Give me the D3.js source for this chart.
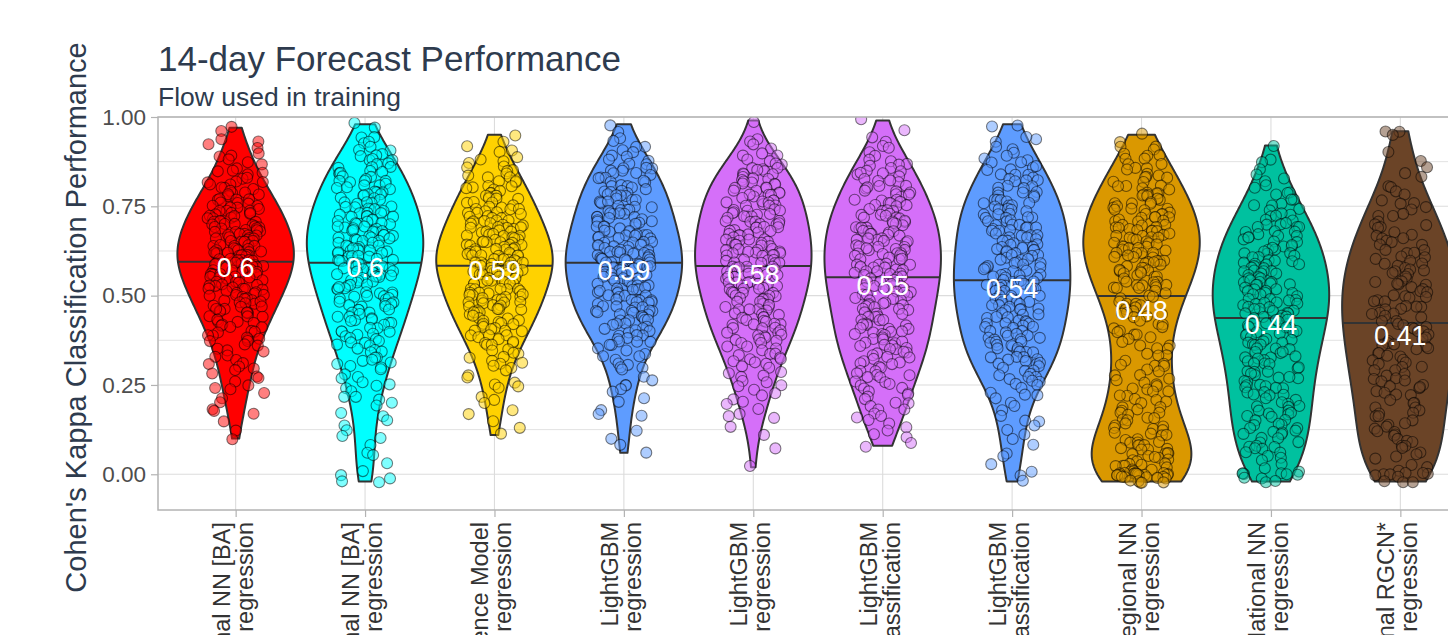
<!DOCTYPE html>
<html><head><meta charset="utf-8">
<script src="https://cdn.jsdelivr.net/npm/d3@7"></script>
<style>body{margin:0;background:#fff;overflow:hidden}svg{display:block;font-family:"Liberation Sans",Arial,Helvetica,sans-serif}</style>
</head><body>
<svg id="chart" width="1448" height="635"></svg>
<script>
// ---------- data ----------
const modelNames = ["Regional NN [BA]","National NN [BA]","Persistence Model","LightGBM","LightGBM","LightGBM","LightGBM","Regional NN","National NN","National RGCN*"];
const modelTypes = ["regression","regression","regression","regression","regression","classification","classification","regression","regression","regression"];
const modelColors = ["#FF0000","#00FFFF","#FFD200","#5E9CFF","#D56FF9","#D56FF9","#5E9CFF","#DA9800","#00C19F","#6B4427"];
const yTicks = [0,0.25,0.5,0.75,1.0];
const yMinorTicks = [0.125,0.375,0.625,0.875];

const regionalNNBA = [.97,.96,.94,.93,.92,.91,.90,.89,.89,.88,.87,.87,.86,.85,.85,
.84,.84,.83,.83,.82,.82,.82,.81,.81,.80,.80,.80,
.79,.79,.79,.78,.78,.78,.77,.77,.77,.77,.76,.76,.76,.75,.75,.75,.75,
.74,.74,.74,.74,.73,.73,.73,.73,.72,.72,.72,.72,.72,.71,.71,.71,.71,.70,.70,.70,.70,
.69,.69,.69,.69,.69,.68,.68,.68,.68,.68,.67,.67,.67,.67,.67,.66,.66,.66,.66,.66,.65,.65,.65,.65,.65,
.64,.64,.64,.64,.64,.63,.63,.63,.63,.63,.62,.62,.62,.62,.62,.62,.61,.61,.61,.61,.61,.60,.60,.60,.60,.60,.60,
.59,.59,.59,.59,.59,.58,.58,.58,.58,.58,.57,.57,.57,.57,.57,.56,.56,.56,.56,.56,.55,.55,.55,.55,.55,
.54,.54,.54,.54,.53,.53,.53,.53,.52,.52,.52,.52,.52,.51,.51,.51,.51,.50,.50,.50,.50,
.49,.49,.49,.49,.48,.48,.48,.48,.47,.47,.47,.46,.46,.46,.46,.45,.45,.45,
.44,.44,.44,.43,.43,.43,.42,.42,.42,.41,.41,.40,.40,.40,
.39,.39,.38,.38,.38,.37,.37,.36,.36,.35,.35,
.34,.33,.33,.32,.31,.31,.30,.30,
.29,.28,.27,.27,.26,.25,
.24,.24,.23,.21,.20,
.18,.18,.17,.15,.12,.10];

const nationalNNBA = [.98,.97,
.94,.94,.93,.93,.92,.91,.91,.90,
.89,.89,.88,.88,.88,.87,.87,.86,.86,.86,.85,.85,
.84,.84,.84,.83,.83,.83,.82,.82,.82,.82,.81,.81,.81,.80,.80,.80,
.79,.79,.79,.79,.78,.78,.78,.78,.77,.77,.77,.76,.76,.76,.76,.75,.75,.75,
.74,.74,.74,.74,.73,.73,.73,.73,.72,.72,.72,.72,.71,.71,.71,.71,.70,.70,.70,.70,
.69,.69,.69,.69,.69,.68,.68,.68,.68,.68,.67,.67,.67,.67,.66,.66,.66,.66,.66,.65,.65,.65,.65,
.64,.64,.64,.64,.63,.63,.63,.63,.63,.62,.62,.62,.62,.61,.61,.61,.61,.60,.60,.60,.60,.60,
.59,.59,.59,.59,.58,.58,.58,.58,.57,.57,.57,.57,.56,.56,.56,.56,.55,.55,.55,.55,
.54,.54,.54,.54,.53,.53,.53,.52,.52,.52,.52,.51,.51,.51,.50,.50,.50,.50,
.49,.49,.49,.48,.48,.48,.48,.47,.47,.47,.46,.46,.46,.45,.45,.45,
.44,.44,.44,.43,.43,.43,.42,.42,.42,.41,.41,.40,.40,.40,
.39,.39,.39,.38,.38,.37,.37,.37,.36,.36,.35,.35,
.34,.34,.33,.33,.32,.32,.31,.31,.30,.30,
.29,.28,.27,.27,.26,.25,.25,
.24,.23,.22,.22,.21,.20,
.19,.17,.16,.15,
.14,.12,.11,.10,
.08,.06,.05,
.03,.01,.00,
-.01,-.02,-.02];

const persistenceModel = [.95,
.93,.92,.91,.90,
.89,.88,.88,.87,.86,.86,.85,.85,
.84,.84,.83,.83,.82,.82,.82,.81,.81,.80,.80,.80,
.79,.79,.79,.78,.78,.78,.78,.77,.77,.77,.76,.76,.76,.75,.75,.75,
.74,.74,.74,.74,.73,.73,.73,.73,.72,.72,.72,.72,.71,.71,.71,.71,.70,.70,.70,.70,
.69,.69,.69,.69,.69,.68,.68,.68,.68,.67,.67,.67,.67,.67,.66,.66,.66,.66,.65,.65,.65,.65,.65,
.64,.64,.64,.64,.64,.63,.63,.63,.63,.63,.62,.62,.62,.62,.62,.61,.61,.61,.61,.61,.60,.60,.60,.60,.60,.60,
.59,.59,.59,.59,.59,.59,.58,.58,.58,.58,.58,.57,.57,.57,.57,.57,.56,.56,.56,.56,.56,.55,.55,.55,.55,
.54,.54,.54,.54,.54,.53,.53,.53,.53,.52,.52,.52,.52,.52,.51,.51,.51,.51,.50,.50,.50,.50,.50,
.49,.49,.49,.49,.48,.48,.48,.48,.47,.47,.47,.47,.46,.46,.46,.46,.45,.45,.45,.45,
.44,.44,.44,.43,.43,.43,.42,.42,.42,.42,.41,.41,.41,.40,.40,.40,
.39,.39,.39,.38,.38,.37,.37,.37,.36,.36,.35,.35,
.34,.34,.33,.33,.32,.31,.31,.30,.30,
.29,.28,.27,.26,.25,.25,
.24,.22,.21,.20,
.18,.17,.15,
.13,.11];

const lgbmRegA = [.98,.96,
.94,.93,.92,.92,.91,.90,
.89,.89,.88,.88,.87,.87,.86,.86,.86,.85,.85,
.84,.84,.84,.83,.83,.83,.82,.82,.82,.81,.81,.81,.80,.80,
.79,.79,.79,.79,.78,.78,.78,.78,.77,.77,.77,.76,.76,.76,.76,.75,.75,.75,
.74,.74,.74,.74,.73,.73,.73,.73,.72,.72,.72,.72,.71,.71,.71,.71,.70,.70,.70,
.69,.69,.69,.69,.68,.68,.68,.68,.67,.67,.67,.67,.67,.66,.66,.66,.66,.65,.65,.65,.65,
.64,.64,.64,.64,.64,.63,.63,.63,.63,.62,.62,.62,.62,.62,.61,.61,.61,.61,.60,.60,.60,.60,.60,
.59,.59,.59,.59,.59,.58,.58,.58,.58,.58,.57,.57,.57,.57,.56,.56,.56,.56,.56,.55,.55,.55,.55,
.54,.54,.54,.54,.53,.53,.53,.53,.52,.52,.52,.52,.52,.51,.51,.51,.51,.50,.50,.50,.50,
.49,.49,.49,.49,.48,.48,.48,.48,.47,.47,.47,.47,.46,.46,.46,.46,.45,.45,.45,.45,
.44,.44,.44,.43,.43,.43,.43,.42,.42,.42,.41,.41,.41,.40,.40,.40,
.39,.39,.39,.38,.38,.37,.37,.37,.36,.36,.35,.35,
.34,.33,.33,.32,.31,.31,.30,.30,
.29,.27,.26,.25,.25,
.24,.23,.21,.20,
.18,.17,.16,
.12,.10,
.08,.06];

const lgbmRegB = [.99,
.94,.93,.92,.91,.90,
.89,.89,.88,.88,.87,.87,.86,.86,.85,.85,.85,
.84,.84,.84,.83,.83,.83,.82,.82,.82,.81,.81,.81,.80,.80,.80,
.79,.79,.79,.79,.78,.78,.78,.78,.77,.77,.77,.76,.76,.76,.76,.75,.75,.75,
.74,.74,.74,.74,.73,.73,.73,.73,.72,.72,.72,.72,.71,.71,.71,.71,.70,.70,.70,
.69,.69,.69,.69,.68,.68,.68,.68,.67,.67,.67,.67,.67,.66,.66,.66,.66,.65,.65,.65,.65,
.64,.64,.64,.64,.63,.63,.63,.63,.62,.62,.62,.62,.62,.61,.61,.61,.61,.60,.60,.60,.60,
.59,.59,.59,.59,.58,.58,.58,.58,.58,.57,.57,.57,.57,.56,.56,.56,.56,.55,.55,.55,.55,
.54,.54,.54,.54,.53,.53,.53,.53,.52,.52,.52,.52,.51,.51,.51,.51,.50,.50,.50,
.49,.49,.49,.49,.48,.48,.48,.48,.47,.47,.47,.46,.46,.46,.46,.45,.45,.45,
.44,.44,.44,.43,.43,.43,.42,.42,.42,.42,.41,.41,.41,.40,.40,.40,
.39,.39,.39,.38,.38,.38,.37,.37,.37,.36,.36,.35,.35,
.34,.34,.33,.33,.32,.32,.32,.31,.31,.30,.30,
.29,.28,.28,.27,.26,.26,.25,.25,
.24,.23,.22,.21,.20,.20,
.18,.17,.16,.16,
.13,.11,.07,.02];

const lgbmClassA = [.99,.96,
.94,.93,.92,.91,.90,
.89,.88,.88,.87,.87,.86,.86,.85,.85,
.84,.84,.84,.83,.83,.82,.82,.82,.81,.81,.80,.80,
.79,.79,.79,.78,.78,.78,.77,.77,.77,.76,.76,.76,.75,.75,.75,
.74,.74,.74,.74,.73,.73,.73,.72,.72,.72,.72,.71,.71,.71,.70,.70,.70,
.69,.69,.69,.69,.68,.68,.68,.68,.67,.67,.67,.67,.66,.66,.66,.66,.65,.65,.65,
.64,.64,.64,.64,.63,.63,.63,.63,.62,.62,.62,.62,.61,.61,.61,.61,.60,.60,.60,
.59,.59,.59,.59,.58,.58,.58,.58,.57,.57,.57,.57,.56,.56,.56,.56,.55,.55,.55,
.54,.54,.54,.54,.53,.53,.53,.53,.52,.52,.52,.52,.51,.51,.51,.50,.50,.50,
.49,.49,.49,.49,.48,.48,.48,.47,.47,.47,.47,.46,.46,.46,.45,.45,.45,
.44,.44,.44,.43,.43,.43,.42,.42,.42,.42,.41,.41,.41,.40,.40,.40,
.39,.39,.39,.38,.38,.38,.37,.37,.37,.36,.36,.36,.35,.35,.35,
.34,.34,.34,.33,.33,.33,.32,.32,.31,.31,.31,.30,.30,
.29,.29,.28,.28,.28,.27,.27,.26,.26,.25,.25,
.24,.24,.23,.23,.22,.22,.21,.20,.20,
.19,.18,.18,.17,.16,.16,.15,
.14,.13,.12,.11,.10,
.09,.08];

const lgbmClassB = [.98,.97,
.94,.94,.93,.92,.91,.90,
.89,.88,.88,.87,.87,.86,.86,.85,.85,
.84,.84,.84,.83,.83,.82,.82,.82,.81,.81,.80,.80,
.79,.79,.79,.78,.78,.78,.77,.77,.77,.76,.76,.76,.75,.75,.75,
.74,.74,.74,.74,.73,.73,.73,.72,.72,.72,.72,.71,.71,.71,.70,.70,.70,
.69,.69,.69,.69,.68,.68,.68,.67,.67,.67,.67,.66,.66,.66,.65,.65,.65,
.64,.64,.64,.64,.63,.63,.63,.63,.62,.62,.62,.61,.61,.61,.61,.60,.60,.60,
.59,.59,.59,.59,.58,.58,.58,.58,.57,.57,.57,.56,.56,.56,.56,.55,.55,.55,
.54,.54,.54,.54,.53,.53,.53,.53,.52,.52,.52,.52,.51,.51,.51,.51,.50,.50,.50,
.49,.49,.49,.49,.48,.48,.48,.48,.47,.47,.47,.46,.46,.46,.46,.45,.45,.45,
.44,.44,.44,.43,.43,.43,.42,.42,.42,.42,.41,.41,.41,.40,.40,.40,
.39,.39,.39,.38,.38,.38,.38,.37,.37,.37,.36,.36,.36,.35,.35,.35,
.34,.34,.34,.33,.33,.33,.32,.32,.32,.31,.31,.31,.30,.30,
.29,.29,.28,.28,.27,.27,.27,.26,.26,.25,.25,
.24,.23,.22,.22,.21,.20,
.19,.18,.16,.15,.15,
.14,.12,.11,.10,
.08,.06,.05,
.03,.01,.00,-.02];

const regionalNN = [.95,
.93,.92,.92,.91,.90,
.89,.89,.88,.88,.87,.87,.86,.86,.85,
.84,.84,.83,.83,.83,.82,.82,.81,.81,.81,.80,.80,
.79,.79,.79,.78,.78,.78,.78,.77,.77,.76,.76,.76,.76,.75,.75,
.74,.74,.74,.74,.73,.73,.73,.73,.72,.72,.72,.72,.71,.71,.71,.71,.70,.70,.70,
.69,.69,.69,.69,.68,.68,.68,.68,.67,.67,.67,.67,.66,.66,.66,.66,.66,.65,.65,.65,
.64,.64,.64,.64,.63,.63,.63,.63,.63,.62,.62,.62,.62,.61,.61,.61,.61,.60,.60,.60,
.59,.59,.59,.59,.58,.58,.58,.57,.57,.57,.57,.57,.56,.56,.56,.55,.55,.55,
.54,.54,.54,.53,.53,.53,.53,.52,.52,.52,.52,.51,.51,.50,.50,
.49,.48,.48,.48,.47,.47,.47,.46,.46,.45,.45,.45,
.44,.44,.43,.42,.42,.41,.41,.40,.40,
.39,.39,.38,.38,.37,.36,.36,.35,.35,
.34,.33,.33,.32,.31,.31,.30,.30,
.29,.29,.28,.28,.27,.26,.26,.25,.25,
.24,.24,.23,.23,.22,.22,.21,.21,.20,.20,
.19,.19,.18,.18,.17,.17,.17,.16,.16,.15,.15,
.14,.14,.13,.13,.13,.12,.12,.11,.11,.11,.10,.10,
.09,.09,.09,.08,.08,.08,.07,.07,.07,.07,.06,.06,.06,.06,.06,.05,.05,.05,
.04,.04,.04,.03,.03,.03,.02,.02,.02,.02,.01,.01,.01,.01,.00,.00,.00,.00,.00,.00,.00,.00,.00,.00,.00,.00,.00,.00,.00,
-.01,-.01,-.01,-.01,-.01,-.01,-.02,-.02,-.02,-.02,-.02];

const nationalNN = [.92,
.88,.87,.85,
.84,.83,.82,.81,.80,
.79,.79,.78,.77,.77,.76,.75,.75,
.74,.74,.73,.73,.72,.72,.71,.71,.70,.70,.70,
.69,.69,.69,.68,.68,.68,.67,.67,.67,.66,.66,.66,.65,.65,
.64,.64,.64,.63,.63,.63,.62,.62,.62,.62,.61,.61,.61,.60,.60,.60,
.59,.59,.59,.59,.58,.58,.58,.57,.57,.57,.57,.56,.56,.56,.55,.55,.55,
.54,.54,.54,.54,.53,.53,.53,.53,.52,.52,.52,.51,.51,.51,.51,.50,.50,.50,
.49,.49,.49,.49,.48,.48,.48,.48,.47,.47,.47,.46,.46,.46,.46,.45,.45,.45,
.44,.44,.44,.44,.44,.43,.43,.43,.42,.42,.42,.41,.41,.41,.40,.40,.40,
.39,.39,.39,.38,.38,.38,.37,.37,.37,.36,.36,.36,.35,.35,.35,
.34,.34,.34,.33,.33,.33,.32,.32,.32,.31,.31,.31,.30,.30,
.29,.29,.29,.28,.28,.27,.27,.27,.26,.26,.25,.25,.25,
.24,.24,.24,.23,.23,.22,.22,.22,.21,.21,.20,.20,
.19,.19,.19,.18,.18,.17,.17,.17,.16,.16,.15,.15,
.14,.14,.14,.13,.13,.12,.12,.12,.11,.11,.10,.10,
.09,.09,.08,.08,.08,.07,.07,.06,.06,.05,.05,
.04,.03,.02,.01,.00,.00,.00,.00,.00,.00,
-.01,-.02,-.02,-.01];

const nationalRGCN = [.96,.96,.95,
.90,
.88,.86,
.84,.83,.81,.80,
.79,.78,.77,.76,.76,.75,
.74,.73,.72,.72,.71,.70,.70,
.69,.69,.68,.67,.67,.66,.66,.65,.65,
.64,.64,.63,.63,.62,.62,.61,.61,.60,.60,
.59,.59,.58,.58,.57,.57,.57,.56,.56,.55,.55,
.54,.54,.53,.53,.53,.52,.52,.51,.51,.50,.50,.50,
.49,.49,.48,.48,.47,.47,.47,.46,.46,.45,.45,.45,
.44,.44,.43,.43,.42,.42,.41,.41,.41,.40,.40,
.39,.39,.38,.38,.37,.37,.36,.36,.36,.35,.35,
.34,.34,.33,.33,.32,.32,.31,.31,.30,.30,
.29,.29,.28,.28,.27,.27,.26,.26,.25,.25,
.24,.24,.23,.23,.22,.22,.21,.20,.20,
.19,.19,.18,.17,.17,.16,.16,.15,
.14,.14,.13,.13,.12,.12,.11,.11,.10,
.09,.09,.08,.08,.07,.06,.06,.05,
.04,.03,.02,.01,.00,.00,.00,.00,.00,.00,
-.01,-.02,-.02,-.02];

const seriesValues = [regionalNNBA,nationalNNBA,persistenceModel,lgbmRegA,lgbmRegB,lgbmClassA,lgbmClassB,regionalNN,nationalNN,nationalRGCN];

// ---------- layout ----------
const W = 1448, H = 635;
const panel = {left:158, top:117, right:1478, bottom:510};
const svg = d3.select("#chart");
const textColor = "#2e3b4e";

const x = d3.scalePoint().domain(d3.range(modelNames.length)).range([panel.left, panel.right]).padding(0.6);
const y = d3.scaleLinear().domain([-0.1, 1.0]).range([panel.bottom, panel.top]);
const step = x.step();

svg.append("rect").attr("x",0).attr("y",0).attr("width",W).attr("height",H).attr("fill","#fff");

// grid
const grid = svg.append("g");
grid.selectAll("line.minor").data(yMinorTicks).join("line")
  .attr("x1",panel.left).attr("x2",panel.right).attr("y1",d=>y(d)).attr("y2",d=>y(d))
  .attr("stroke","#e2e2e2").attr("stroke-width",1);
grid.selectAll("line.major").data(yTicks).join("line")
  .attr("x1",panel.left).attr("x2",panel.right).attr("y1",d=>y(d)).attr("y2",d=>y(d))
  .attr("stroke","#dcdcdc").attr("stroke-width",1.1);
grid.selectAll("line.vx").data(d3.range(modelNames.length)).join("line")
  .attr("x1",d=>x(d)).attr("x2",d=>x(d)).attr("y1",panel.top).attr("y2",panel.bottom)
  .attr("stroke","#dcdcdc").attr("stroke-width",1.1);

// clip
svg.append("clipPath").attr("id","pclip").append("rect")
  .attr("x",panel.left).attr("y",panel.top).attr("width",panel.right-panel.left).attr("height",panel.bottom-panel.top);
const plot = svg.append("g").attr("clip-path","url(#pclip)");

// kernel density (gaussian, nrd0 bandwidth, trimmed to data range)
function density(vals){
  const s = vals.slice().sort(d3.ascending);
  const n = s.length;
  const sd = d3.deviation(s);
  const iqr = d3.quantileSorted(s,0.75) - d3.quantileSorted(s,0.25);
  const bw = 0.9*Math.min(sd, iqr/1.34)*Math.pow(n,-0.2);
  const lo = s[0], hi = s[n-1], m = 256;
  const out = [];
  for(let i=0;i<=m;i++){
    const v = lo + (hi-lo)*i/m;
    let d = 0;
    for(const t of s){ const z=(v-t)/bw; d += Math.exp(-0.5*z*z); }
    out.push({v, d: d/(n*bw*Math.sqrt(2*Math.PI))});
  }
  return out;
}

const halfMax = 0.45*step;
const rng = d3.randomLcg(0.4217);

seriesValues.forEach((vals,i)=>{
  const cx = x(i);
  const dens = density(vals);
  const dmax = d3.max(dens, d=>d.d);
  const w = d3.scaleLinear().domain([0,dmax]).range([0,halfMax]);
  const area = d3.area().x0(d=>cx-w(d.d)).x1(d=>cx+w(d.d)).y(d=>y(d.v));
  plot.append("path").attr("d",area(dens)+"Z")
    .attr("fill",modelColors[i]).attr("stroke","#333").attr("stroke-width",2).attr("stroke-linejoin","round");
  // median line from density (as ggplot draw_quantiles)
  const cum=[0];
  for(let k=1;k<dens.length;k++) cum.push(cum[k-1] + (dens[k].d+dens[k-1].d)/2*(dens[k].v-dens[k-1].v));
  const tot = cum[cum.length-1];
  let k=1; while(k<cum.length-1 && cum[k]/tot<0.5) k++;
  const f = (0.5*tot-cum[k-1])/(cum[k]-cum[k-1]);
  const qv = dens[k-1].v + f*(dens[k].v-dens[k-1].v);
  const qd = dens[k-1].d + f*(dens[k].d-dens[k-1].d);
  plot.append("line").attr("x1",cx-w(qd)).attr("x2",cx+w(qd)).attr("y1",y(qv)).attr("y2",y(qv))
    .attr("stroke","#333").attr("stroke-width",2);
});

// jittered points
seriesValues.forEach((vals,i)=>{
  const cx = x(i);
  const pts = vals.map(v=>({v, dx:(rng()*2-1)*0.22*step, dy:(rng()*2-1)*0.004}));
  plot.append("g").selectAll("circle").data(pts).join("circle")
    .attr("cx",d=>cx+d.dx).attr("cy",d=>y(d.v+d.dy)).attr("r",5.5)
    .attr("fill",modelColors[i]).attr("fill-opacity",0.5)
    .attr("stroke","#000").attr("stroke-opacity",0.5).attr("stroke-width",1.1);
});

// median labels
seriesValues.forEach((vals,i)=>{
  const med = d3.median(vals);
  svg.append("text").attr("x",x(i)).attr("y",y(med)+8)
    .attr("text-anchor","middle").attr("dominant-baseline","central")
    .attr("fill","#fff").attr("font-size",27)
    .text(String(Math.round(med*100)/100));
});

// panel border
svg.append("rect").attr("x",panel.left).attr("y",panel.top)
  .attr("width",panel.right-panel.left).attr("height",panel.bottom-panel.top)
  .attr("fill","none").attr("stroke","#b3b3b3").attr("stroke-width",1.5);

// y axis
const yAxis = svg.append("g").attr("transform",`translate(${panel.left},0)`)
  .call(d3.axisLeft(y).tickValues(yTicks).tickSize(7).tickPadding(5).tickFormat(d3.format(".2f")));
yAxis.select(".domain").remove();
yAxis.selectAll(".tick line").attr("stroke","#b3b3b3").attr("stroke-width",1.2);
yAxis.selectAll(".tick text").attr("font-size",22.5).attr("fill","#4d4d4d").attr("font-family","'Liberation Sans',Arial,sans-serif");

// x axis
const xAxis = svg.append("g").attr("transform",`translate(0,${panel.bottom})`)
  .call(d3.axisBottom(x).tickSize(7).tickFormat(""));
xAxis.select(".domain").remove();
xAxis.selectAll(".tick line").attr("stroke","#b3b3b3").attr("stroke-width",1.2);

const xl = svg.append("g");
modelNames.forEach((nm,i)=>{
  const t = xl.append("text").attr("transform",`translate(${x(i)},522) rotate(-90)`)
    .attr("text-anchor","end").attr("font-size",23.5).attr("fill","#333");
  t.append("tspan").attr("x",0).attr("y",-6).text(nm);
  t.append("tspan").attr("x",0).attr("y",17).text(modelTypes[i]);
});

// titles
svg.append("text").attr("x",158).attr("y",71).attr("font-size",35).attr("fill",textColor).text("14-day Forecast Performance");
svg.append("text").attr("x",158).attr("y",106).attr("font-size",26.5).attr("fill",textColor).text("Flow used in training");
svg.append("text").attr("transform",`translate(86,${(panel.top+panel.bottom)/2 + 4}) rotate(-90)`)
  .attr("text-anchor","middle").attr("font-size",29).attr("fill",textColor)
  .text("Cohen's Kappa Classification Performance");
</script>
</body></html>
